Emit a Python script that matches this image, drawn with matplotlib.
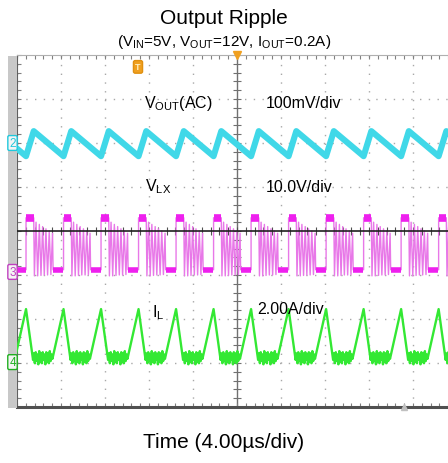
import numpy as np
import matplotlib.pyplot as plt
from matplotlib.patches import Rectangle

plt.rcParams['font.family'] = ['Liberation Sans', 'DejaVu Sans']

# scope settings
TIME_PER_DIV = 4.0      # us/div
VOUT_PER_DIV = 100.0    # mV/div
VLX_PER_DIV = 10.0      # V/div
IL_PER_DIV = 2.0        # A/div

# channel ground levels, divisions from screen centre
VOUT_GND = 2.0
VLX_GND = -0.88
IL_GND = -2.98

PERIOD = 3.41        # us
FIRST_EDGE = -19.18  # us, first LX rising edge on screen

# one switching period, phase in us from the LX rising edge
VOUT_PHASE = [0.00, 0.70, 3.41]
VOUT_MV = [-30, 27, -30]

LX_PHASE = [0.00, 0.00, 0.70, 0.76, 0.91, 1.06, 1.21, 1.36, 1.51, 1.66, 1.81,
            1.96, 2.11, 2.26, 2.41, 2.46, 3.41]
LX_VOLT = [0.0, 11.8, 11.8, -1.4, 10.8, -1.4, 10.3, -1.3, 9.8, -1.2, 9.3,
           -1.2, 8.8, -1.1, 8.3, 0.0, 0.0]
LX_HIGH = [0.02, 0.70]   # phase span of the switch-node high plateau
LX_LOW = [2.48, 3.39]    # phase span of the low plateau

IL_PHASE = [0.00, 0.64, 0.72, 0.80, 0.88, 0.96, 1.04, 1.12, 1.20, 1.28, 1.36,
            1.44, 1.52, 1.60, 1.68, 1.76, 1.84, 1.92, 2.00, 2.08, 2.16, 2.24,
            2.32, 2.40, 3.41]
IL_AMP = [2.41, 0.10, 0.40, -0.05, 0.45, 0.05, 0.35, -0.10, 0.50, 0.00, 0.40,
          -0.05, 0.45, 0.10, 0.35, -0.10, 0.45, 0.00, 0.40, -0.05, 0.50, 0.05,
          0.35, 0.15, 2.41]

CYAN = '#40d8e8'
MAGENTA = '#e878e8'
MAGENTA_DARK = '#ee20ee'
GREEN = '#33e833'


def tile(phase, vals):
    ts, vs = [], []
    for k in range(-1, 13):
        ts.append(FIRST_EDGE + k * PERIOD + np.array(phase))
        vs.append(np.array(vals, dtype=float))
    return np.concatenate(ts), np.concatenate(vs)


def main():
    W, H = 448, 464
    fig = plt.figure(figsize=(W / 100, H / 100), dpi=100)
    ax = fig.add_axes([17 / W, (H - 408) / H, 440 / W, 352 / H])
    ax.set_xlim(-20, 20)
    ax.set_ylim(-4, 4)

    # grey side bar
    fig.add_artist(Rectangle((8 / W, (H - 409) / H), 9 / W, 352 / H,
                             transform=fig.transFigure, facecolor='#c8c8c8',
                             edgecolor='none', zorder=0.5))

    # graticule
    for t in np.arange(-20, 21, TIME_PER_DIV):
        if t != 0:
            ax.axvline(t, color='#a8a8a8', lw=1.0, dashes=(1.0, 5.3), zorder=1)
    for y in range(-3, 4):
        if y != 0:
            ax.axhline(y, color='#a8a8a8', lw=1.0, dashes=(1.0, 5.3), zorder=1)
    ax.axvline(0, color='#707070', lw=1.0, zorder=1)
    ax.axhline(0, color='#202020', lw=1.2, zorder=4)
    ax.plot(np.zeros(41), np.arange(-4, 4.01, 0.2), ls='none', marker='_',
            ms=6, mew=0.8, color='#707070', zorder=1)
    ax.plot(np.arange(-20, 20.01, 0.8), np.zeros(51), ls='none', marker='|',
            ms=6, mew=0.8, color='#505050', zorder=1)

    ax.set_xticks(np.arange(-20, 20.01, 0.8))
    ax.set_yticks(np.arange(-4, 4.01, 0.2))
    ax.tick_params(direction='in', length=3, width=0.8, color='#808080',
                   top=True, bottom=True, left=True, right=False,
                   labelbottom=False, labelleft=False)
    ax.spines['right'].set_visible(False)
    ax.spines['top'].set_color('#b0b0b0')
    ax.spines['left'].set_color('#606060')
    ax.spines['bottom'].set_color('#505050')
    ax.spines['bottom'].set_linewidth(2.2)

    # VOUT (AC)
    t, v = tile(VOUT_PHASE, VOUT_MV)
    ax.plot(t, VOUT_GND + v / VOUT_PER_DIV, color=CYAN, lw=4.4, zorder=3,
            solid_joinstyle='round')

    # VLX
    t, v = tile(LX_PHASE, LX_VOLT)
    ax.plot(t, VLX_GND + v / VLX_PER_DIV, color=MAGENTA, lw=1.0, zorder=3)
    for k in range(-1, 13):
        t0 = FIRST_EDGE + k * PERIOD
        ax.plot([t0 + LX_HIGH[0], t0 + LX_HIGH[1]],
                [VLX_GND + 11.8 / VLX_PER_DIV] * 2, color=MAGENTA_DARK,
                lw=5.5, solid_capstyle='butt', zorder=3)
        ax.plot([t0 + LX_LOW[0], t0 + LX_LOW[1]],
                [VLX_GND + 0.0 / VLX_PER_DIV] * 2, color=MAGENTA_DARK,
                lw=4, solid_capstyle='butt', zorder=3)

    # IL
    t, v = tile(IL_PHASE, IL_AMP)
    ax.plot(t, IL_GND + v / IL_PER_DIV, color=GREEN, lw=1.7, zorder=3)

    # channel labels
    ax.text(-5.3, 2.93, r'V$_{\mathregular{OUT}}$(AC)', ha='center',
            va='center', fontsize=11.5, zorder=5)
    ax.text(2.6, 2.93, '100mV/div', ha='left', va='center', fontsize=11.5, zorder=5)
    ax.text(-7.2, 1.02, r'V$_{\mathregular{LX}}$', ha='center', va='center',
            fontsize=11.5, zorder=5)
    ax.text(2.6, 1.02, '10.0V/div', ha='left', va='center', fontsize=11.5, zorder=5)
    ax.text(-7.2, -1.84, r'I$_{\mathregular{L}}$', ha='center', va='center',
            fontsize=11.5, zorder=5)
    ax.text(1.8, -1.77, '2.00A/div', ha='left', va='center', fontsize=11.5, zorder=5)

    # channel tags on the side bar
    for yy, txt, col in [(VOUT_GND, '2', '#20c8dc'), (VLX_GND - 0.05, '3', '#c040c0'),
                         (IL_GND, '4', '#20b020')]:
        fig.text(12.5 / W, (H - 232 + yy * 44) / H, txt, ha='center',
                 va='center', fontsize=8.5, color=col, zorder=6,
                 bbox=dict(boxstyle='round,pad=0.12', fc='#f4f4f4', ec=col, lw=1))

    # trigger markers
    ax.text(-9.0, 3.73, 'T', ha='center', va='center', fontsize=6.5,
            color='#fff0c0', fontweight='bold', zorder=6,
            bbox=dict(boxstyle='round,pad=0.2', fc='#f0a020', ec='#e09010'))
    ax.plot([0], [4], marker='v', ms=6, color='#f0a020', clip_on=False, zorder=6)
    ax.plot([15.2], [-4], marker='^', ms=5, color='#c0c0c0', clip_on=False, zorder=6)

    # titles
    fig.text(0.5, 1 - 18 / H, 'Output Ripple', ha='center', va='center',
             fontsize=15)
    fig.text(0.5, 1 - 42 / H,
             r'(V$_{\mathregular{IN}}$=5V, V$_{\mathregular{OUT}}$=12V, '
             r'I$_{\mathregular{OUT}}$=0.2A)', ha='center', va='center',
             fontsize=11)
    fig.text(0.5, 1 - 443 / H, 'Time (4.00\u00b5s/div)', ha='center',
             va='center', fontsize=15)

    fig.savefig('out.png', dpi=100)


if __name__ == "__main__":
    main()
